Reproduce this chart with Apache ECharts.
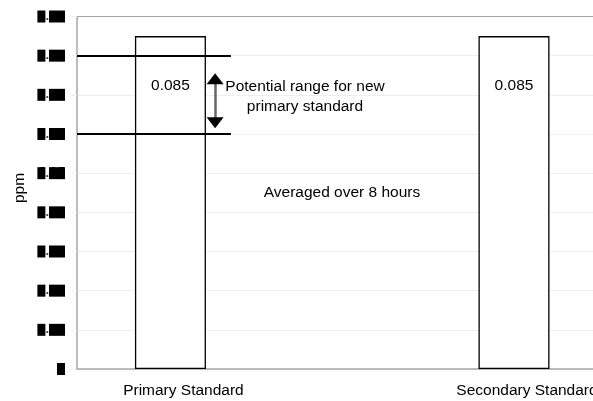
<!DOCTYPE html>
<html>
<head>
<meta charset="utf-8">
<script src="https://cdn.jsdelivr.net/npm/echarts@6/dist/echarts.min.js"></script>
<style>
html,body{margin:0;padding:0;background:#fff;}
#chart{width:593px;height:401px;}
</style>
</head>
<body>
<div id="chart"></div>
<script>
// ---- data ----
var categories = ['Primary Standard', 'Secondary Standard'];
var values = [0.085, 0.085];
var valueLabels = ['0.085', '0.085'];
var yTicks = [0, 0.01, 0.02, 0.03, 0.04, 0.05, 0.06, 0.07, 0.08, 0.09];
var rangeLines = [0.08, 0.06];          // potential range for new primary standard
var rangeArrow = [0.0741, 0.0629];      // double arrow between the lines (head centres)
var annotationRange = 'Potential range for new\nprimary standard';
var annotationAvg = 'Averaged over 8 hours';
var yName = 'ppm';

var chart = echarts.init(document.getElementById('chart'));
var xMin = -0.272, xMax = 1.23;
var lineEndX = 0.176, arrowX = 0.130;

function blockLabel(v) {
  var s = Math.abs(v) < 1e-9 ? '0' : v.toFixed(2);
  var out = '';
  for (var i = 0; i < s.length; i++) {
    var c = s[i];
    out += (c === '.') ? '{d|.}' : '{b|' + c + '}';
  }
  return out;
}

var gridColors = yTicks.map(function (t, i) { return i === yTicks.length - 1 ? '#a6a6a6' : '#eeeeee'; });
var font = '"Liberation Sans", Arial, sans-serif';

var option = {
  animation: false,
  backgroundColor: '#fff',
  textStyle: { fontFamily: font },
  grid: { left: 77, right: 0, top: 16.5, bottom: 32, outerBoundsMode: 'none', containLabel: false },
  xAxis: {
    type: 'value',
    min: xMin, max: xMax,
    axisLine: { show: true, onZero: false, lineStyle: { color: '#a6a6a6', width: 1.5 } },
    axisTick: { show: false },
    splitLine: { show: false },
    axisLabel: {
      customValues: categories.map(function (c, i) { return i; }),
      formatter: function (v) { return categories[Math.round(v)] || ''; },
      color: '#000', fontSize: 15.5, margin: 14,
      padding: [0, 0, 0, 26],
      hideOverlap: false
    }
  },
  yAxis: {
    type: 'value',
    min: 0, max: 0.09, interval: 0.01,
    axisLine: { show: true, onZero: false, lineStyle: { color: '#a6a6a6', width: 1.5 } },
    axisTick: { show: true, length: 5, lineStyle: { color: '#eeeeee' } },
    splitLine: { show: true, lineStyle: { color: gridColors, width: 1 } },
    axisLabel: {
      margin: 12,
      formatter: blockLabel,
      rich: {
        b: { color: '#000', backgroundColor: '#000', width: 8, height: 12, fontSize: 12, lineHeight: 12 },
        d: { color: '#444', fontSize: 13, fontWeight: 'bold', padding: [0, 0, 0, 0] }
      }
    }
  },
  series: [{
    type: 'bar',
    barWidth: 71,
    data: categories.map(function (c, i) { return [i, values[i]]; }),
    itemStyle: { color: '#fff', borderColor: '#000', borderWidth: 1.3 },
    label: {
      show: true, position: 'insideTop', distance: 42,
      formatter: function (p) { return valueLabels[p.dataIndex]; },
      color: '#000', fontSize: 15.5
    },
    markLine: {
      silent: true,
      animation: false,
      symbol: 'none',
      label: { show: false },
      emphasis: { disabled: true },
      data: rangeLines.map(function (y) {
        return [
          { coord: [xMin, y], lineStyle: { color: '#000', width: 2, type: 'solid' } },
          { coord: [lineEndX, y] }
        ];
      }).concat([[
        { coord: [arrowX, rangeArrow[0]], lineStyle: { color: '#666', width: 2.5, type: 'solid' } },
        { coord: [arrowX, rangeArrow[1]] }
      ]])
    },
    markPoint: {
      silent: true,
      animation: false,
      symbol: 'triangle',
      symbolSize: [17, 11],
      label: { show: false },
      itemStyle: { color: '#000' },
      data: [
        { coord: [arrowX, rangeArrow[0]], symbolRotate: 0 },
        { coord: [arrowX, rangeArrow[1]], symbolRotate: 180 }
      ]
    }
  }],
  graphic: [
    { type: 'text', x: 305, y: 97, style: { text: annotationRange, align: 'center', verticalAlign: 'middle', fill: '#000', font: '15.5px ' + font, lineHeight: 20 } },
    { type: 'text', x: 342, y: 193, style: { text: annotationAvg, align: 'center', verticalAlign: 'middle', fill: '#000', font: '15.5px ' + font } },
    { type: 'text', x: 19.5, y: 188, rotation: Math.PI / 2, style: { text: yName, align: 'center', verticalAlign: 'middle', fill: '#000', font: '15.5px ' + font } }
  ]
};
chart.setOption(option);
</script>
</body>
</html>
